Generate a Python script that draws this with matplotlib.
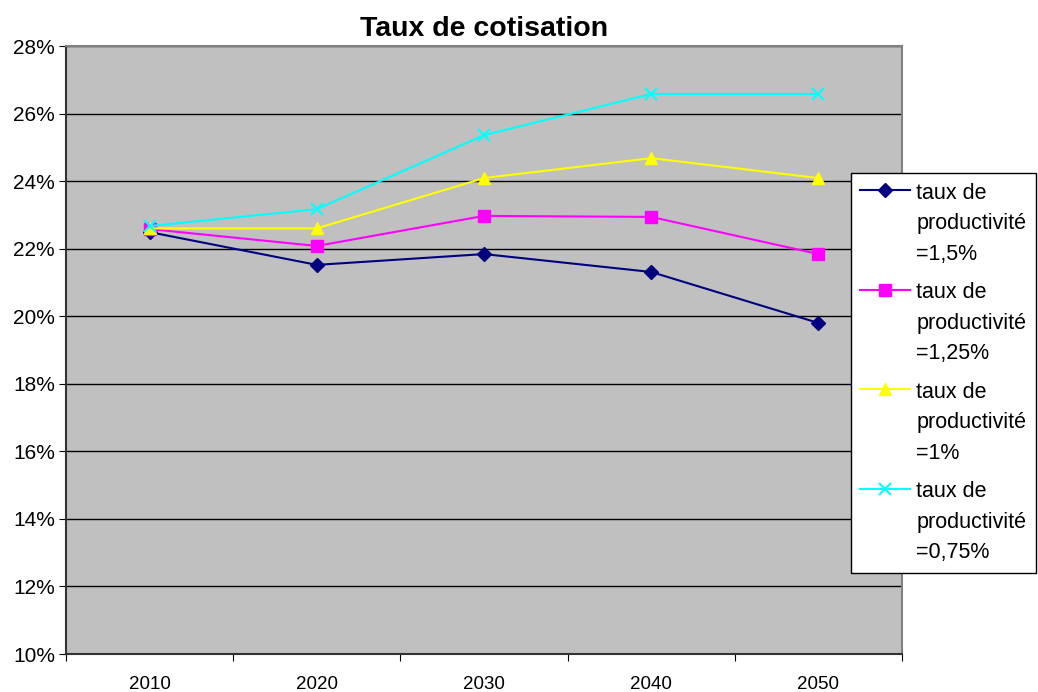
import matplotlib
matplotlib.use('Agg')
import matplotlib.pyplot as plt
import numpy as np
from matplotlib.ticker import FixedLocator, FuncFormatter
from matplotlib.legend_handler import HandlerLine2D

plt.rcParams['font.family'] = ['Liberation Sans', 'DejaVu Sans']

# données
annees = ['2010', '2020', '2030', '2040', '2050']
prod_1_5 = [22.49, 21.52, 21.84, 21.31, 19.80]
prod_1_25 = [22.58, 22.08, 22.97, 22.94, 21.84]
prod_1 = [22.60, 22.60, 24.09, 24.68, 24.09]
prod_0_75 = [22.67, 23.17, 25.36, 26.58, 26.58]

labels = ['taux de\nproductivité\n=1,5%',
          'taux de\nproductivité\n=1,25%',
          'taux de\nproductivité\n=1%',
          'taux de\nproductivité\n=0,75%']

LEG_FS = 15.5
LEG_LS = 1.6


class HandlerTop(HandlerLine2D):
    # place le symbole en face de la première ligne du libellé
    def create_artists(self, legend, orig_handle, xdescent, ydescent,
                       width, height, fontsize, trans):
        arts = super().create_artists(legend, orig_handle, xdescent, ydescent,
                                      width, height, fontsize, trans)
        shift = fontsize * LEG_LS * 0.98
        for a in arts:
            a.set_ydata(np.asarray(a.get_ydata()) + shift)
        return arts


fig = plt.figure(figsize=(10.38, 6.92), dpi=100)
ax = fig.add_axes([66 / 1038, 38 / 692, 836 / 1038, 608 / 692])
ax.set_facecolor('#C0C0C0')

x = [i + 0.5 for i in range(len(annees))]
ax.plot(x, prod_1_5, color='#000080', marker='D', markersize=7, lw=1.5, label=labels[0])
ax.plot(x, prod_1_25, color='#FF00FF', marker='s', markersize=8, lw=1.5, label=labels[1])
ax.plot(x, prod_1, color='#FFFF00', marker='^', markersize=9, lw=1.5, label=labels[2])
ax.plot(x, prod_0_75, color='#00FFFF', marker='x', markersize=9, mew=1.5, lw=1.5, label=labels[3])

ax.set_xlim(0, len(annees))
ax.set_ylim(10, 28)
ax.yaxis.set_major_locator(FixedLocator(range(10, 29, 2)))
ax.yaxis.set_major_formatter(FuncFormatter(lambda v, p: '%d%%' % v))
ax.grid(axis='y', color='black', lw=1)
ax.set_axisbelow(True)

# ticks aux limites de catégories, étiquettes au centre
ax.set_xticks(range(len(annees) + 1))
ax.set_xticklabels([])
ax.set_xticks(x, minor=True)
ax.set_xticklabels(annees, minor=True)
ax.tick_params(axis='x', which='minor', length=0, pad=16, labelsize=13.5)
ax.tick_params(axis='x', which='major', length=5, direction='out')
ax.tick_params(axis='y', length=5, direction='out', labelsize=15, pad=3)

for s in ['left', 'bottom']:
    ax.spines[s].set_color('#333333')
    ax.spines[s].set_linewidth(1.5)
for s in ['top', 'right']:
    ax.spines[s].set_color('#808080')
    ax.spines[s].set_linewidth(1.5)

ax.set_title('Taux de cotisation', fontsize=20.5, fontweight='bold', pad=7)

h, l = ax.get_legend_handles_labels()
leg = fig.legend(h, l, loc='upper right', bbox_to_anchor=(1036 / 1038, 1 - 173 / 692),
                 fontsize=LEG_FS, frameon=True, fancybox=False, framealpha=1,
                 edgecolor='black', handlelength=2.3, borderpad=0.45,
                 labelspacing=0.8, handletextpad=0.3, borderaxespad=0,
                 handler_map={plt.Line2D: HandlerTop()})
leg.get_frame().set_linewidth(1)
for t in leg.get_texts():
    t.set_linespacing(LEG_LS)

fig.savefig('out.png', dpi=100)
